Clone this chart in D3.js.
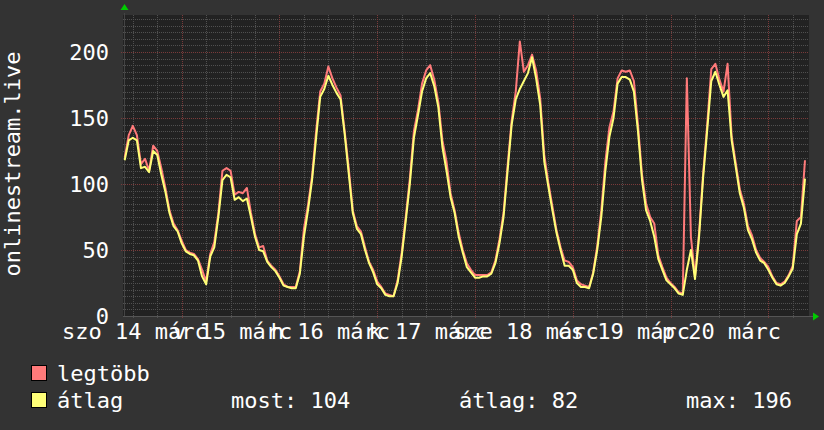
<!DOCTYPE html>
<html><head><meta charset="utf-8">
<script src="https://cdn.jsdelivr.net/npm/d3@7"></script>
<style>html,body{margin:0;padding:0;background:#333333;}svg{display:block;}</style>
</head><body>
<svg id="c" width="824" height="430"></svg>
<script>
// ---- data (hourly, starting 2020-03-14 10:00) ----
const startTime = Date.UTC(2020, 2, 14, 10, 0);
const maxValues = [
120,137,144,137,115,119,110,129,125,112,97,80,70,65,57,50,48,47,43,35,
26,47,56,78,110,112,110,92,94,93,97,78,62,52,53,42,38,35,30,24,
22,22,22,34,66,84,106,140,170,176,189,180,173,167,140,112,80,68,64,52,
41,35,26,22,17,16,15,27,48,75,104,140,156,176,186,190,179,162,133,117,
93,80,63,50,40,35,31,31,31,31,33,42,58,78,114,148,170,208,185,190,
198,186,165,122,101,83,65,52,42,41,37,27,24,23,22,33,53,80,117,143,
155,180,186,185,186,178,145,107,85,75,70,46,37,29,25,22,18,17,180,60,
30,63,108,145,187,191,179,170,191,136,116,96,85,68,61,50,44,41,37,30,
25,24,26,31,38,72,75,118
];
const avgValues = [
118,133,135,133,112,113,109,125,122,107,94,78,68,64,55,49,47,46,42,30,
24,45,52,75,103,107,105,88,90,87,89,75,60,50,49,41,37,34,29,23,
22,21,21,32,60,80,103,135,166,172,182,175,169,164,138,108,78,66,62,50,
40,33,24,21,16,15,15,25,45,72,100,135,152,170,180,184,174,158,128,110,
90,78,60,48,37,33,29,29,30,30,32,40,55,75,110,145,164,172,178,184,
196,180,160,117,98,80,63,50,38,38,35,25,22,22,21,32,50,75,110,136,
150,176,181,181,179,170,140,103,80,72,60,43,35,27,24,21,17,16,35,50,
28,60,105,141,178,185,175,166,171,133,113,93,82,65,58,48,42,40,35,29,
24,23,25,30,36,62,70,104
];
const yTicks = [0, 50, 100, 150, 200];
const dayLabels = ["szo 14 márc","v 15 márc","h 16 márc","k 17 márc","sze 18 márc","cs 19 márc","p 20 márc"];
const legendNames = ["legtöbb", "átlag"];
const legendStats = ["most: 104", "átlag: 82", "max: 196"];
const seriesColors = ["#ff7a7a", "#ffff77"];

// ---- layout ----
const W = 824, H = 430;
const plotL = 123, plotR = 809, plotT = 15, plotB = 316;
const font = "'DejaVu Sans Mono', monospace";
const svg = d3.select("#c");
svg.append("rect").attr("width", W).attr("height", H).attr("fill", "#333333");
svg.append("rect").attr("x", plotL).attr("y", plotT).attr("width", plotR - plotL).attr("height", plotB - plotT).attr("fill", "#222222");

const HOUR = 3600e3, DAY = 24 * HOUR;
const x = d3.scaleUtc().domain([new Date(startTime), new Date(startTime + 7 * DAY)]).range([124.67, 809.06]);
const y = d3.scaleLinear().domain([0, 228]).range([plotB, plotT]);

const g = svg.append("g");
// minor horizontal grid every 5
d3.range(5, 228, 5).forEach(v => {
  if (v % 50 === 0) return;
  g.append("line").attr("x1", plotL).attr("x2", plotR).attr("y1", Math.round(y(v)) + 0.5).attr("y2", Math.round(y(v)) + 0.5)
    .attr("stroke", "#505050").attr("stroke-width", 1).attr("stroke-dasharray", "1,1");
});
// vertical grid every 6 hours
const firstMid = Date.UTC(2020, 2, 14, 12);
const gridTimes = d3.range(firstMid, startTime + 7 * DAY, 6 * HOUR);
gridTimes.forEach(t => {
  const isDay = new Date(t).getUTCHours() === 0;
  const xx = Math.round(x(new Date(t))) + 0.5;
  g.append("line").attr("x1", xx).attr("x2", xx).attr("y1", plotT).attr("y2", plotB + (isDay ? 3 : 2))
    .attr("stroke", isDay ? "#7a3a3a" : "#505050").attr("stroke-width", 1).attr("stroke-dasharray", "1,1");
});
// major horizontal grid
yTicks.forEach(v => {
  if (v === 0) return;
  g.append("line").attr("x1", plotL - 2).attr("x2", plotR).attr("y1", Math.round(y(v)) + 0.5).attr("y2", Math.round(y(v)) + 0.5)
    .attr("stroke", "#7a3a3a").attr("stroke-width", 1).attr("stroke-dasharray", "1,1");
});

// axes
g.append("line").attr("x1", plotL).attr("x2", plotR + 4).attr("y1", plotB + 0.5).attr("y2", plotB + 0.5).attr("stroke", "#555").attr("stroke-width", 1);
g.append("line").attr("x1", plotL + 1.5).attr("x2", plotL + 1.5).attr("y1", plotT - 2).attr("y2", plotB).attr("stroke", "#444").attr("stroke-width", 1);
g.append("path").attr("d", `M${plotR + 4},${plotB - 3.5} L${plotR + 10},${plotB + 0.5} L${plotR + 4},${plotB + 4.5} Z`).attr("fill", "#00cc00");
g.append("path").attr("d", `M${plotL - 2.5},${plotT - 5} L${plotL + 1.5},${plotT - 11} L${plotL + 5.5},${plotT - 5} Z`).attr("fill", "#00cc00");

// series lines
const line = d3.line().x((d, i) => x(new Date(startTime + i * HOUR))).y(d => y(d)).curve(d3.curveLinear);
svg.append("path").datum(maxValues).attr("d", line).attr("fill", "none").attr("stroke", seriesColors[0]).attr("stroke-width", 2).attr("stroke-linejoin", "round");
svg.append("path").datum(avgValues).attr("d", line).attr("fill", "none").attr("stroke", seriesColors[1]).attr("stroke-width", 2).attr("stroke-linejoin", "round");

// y tick labels
yTicks.forEach(v => {
  svg.append("text").attr("x", 109).attr("y", y(v) + 8).attr("text-anchor", "end")
    .attr("font-family", font).attr("font-size", 22).attr("fill", "#ffffff").text(v);
});
// x labels centred at noon
dayLabels.forEach((lab, i) => {
  const t = new Date(firstMid + i * DAY);
  svg.append("text").attr("x", x(t) + 2).attr("y", 339).attr("text-anchor", "middle")
    .attr("font-family", font).attr("font-size", 22).attr("fill", "#ffffff").text(lab);
});
// y-axis title
svg.append("text").attr("transform", "translate(20,164) rotate(-90)").attr("text-anchor", "middle")
  .attr("font-family", font).attr("font-size", 22).attr("fill", "#ffffff").text("onlinestream.live");

// legend
const rowY = [381, 408];
legendNames.forEach((n, i) => {
  svg.append("rect").attr("x", 31.5).attr("y", rowY[i] - 15.5).attr("width", 15).attr("height", 15)
    .attr("fill", seriesColors[i]).attr("stroke", "#000").attr("stroke-width", 1);
  svg.append("text").attr("x", 57).attr("y", rowY[i]).attr("font-family", font).attr("font-size", 22).attr("fill", "#ffffff").text(n);
});
const statX = [231, 459, 686];
legendStats.forEach((s, i) => {
  svg.append("text").attr("x", statX[i]).attr("y", rowY[1]).attr("font-family", font).attr("font-size", 22).attr("fill", "#ffffff").text(s);
});
</script>
</body></html>
